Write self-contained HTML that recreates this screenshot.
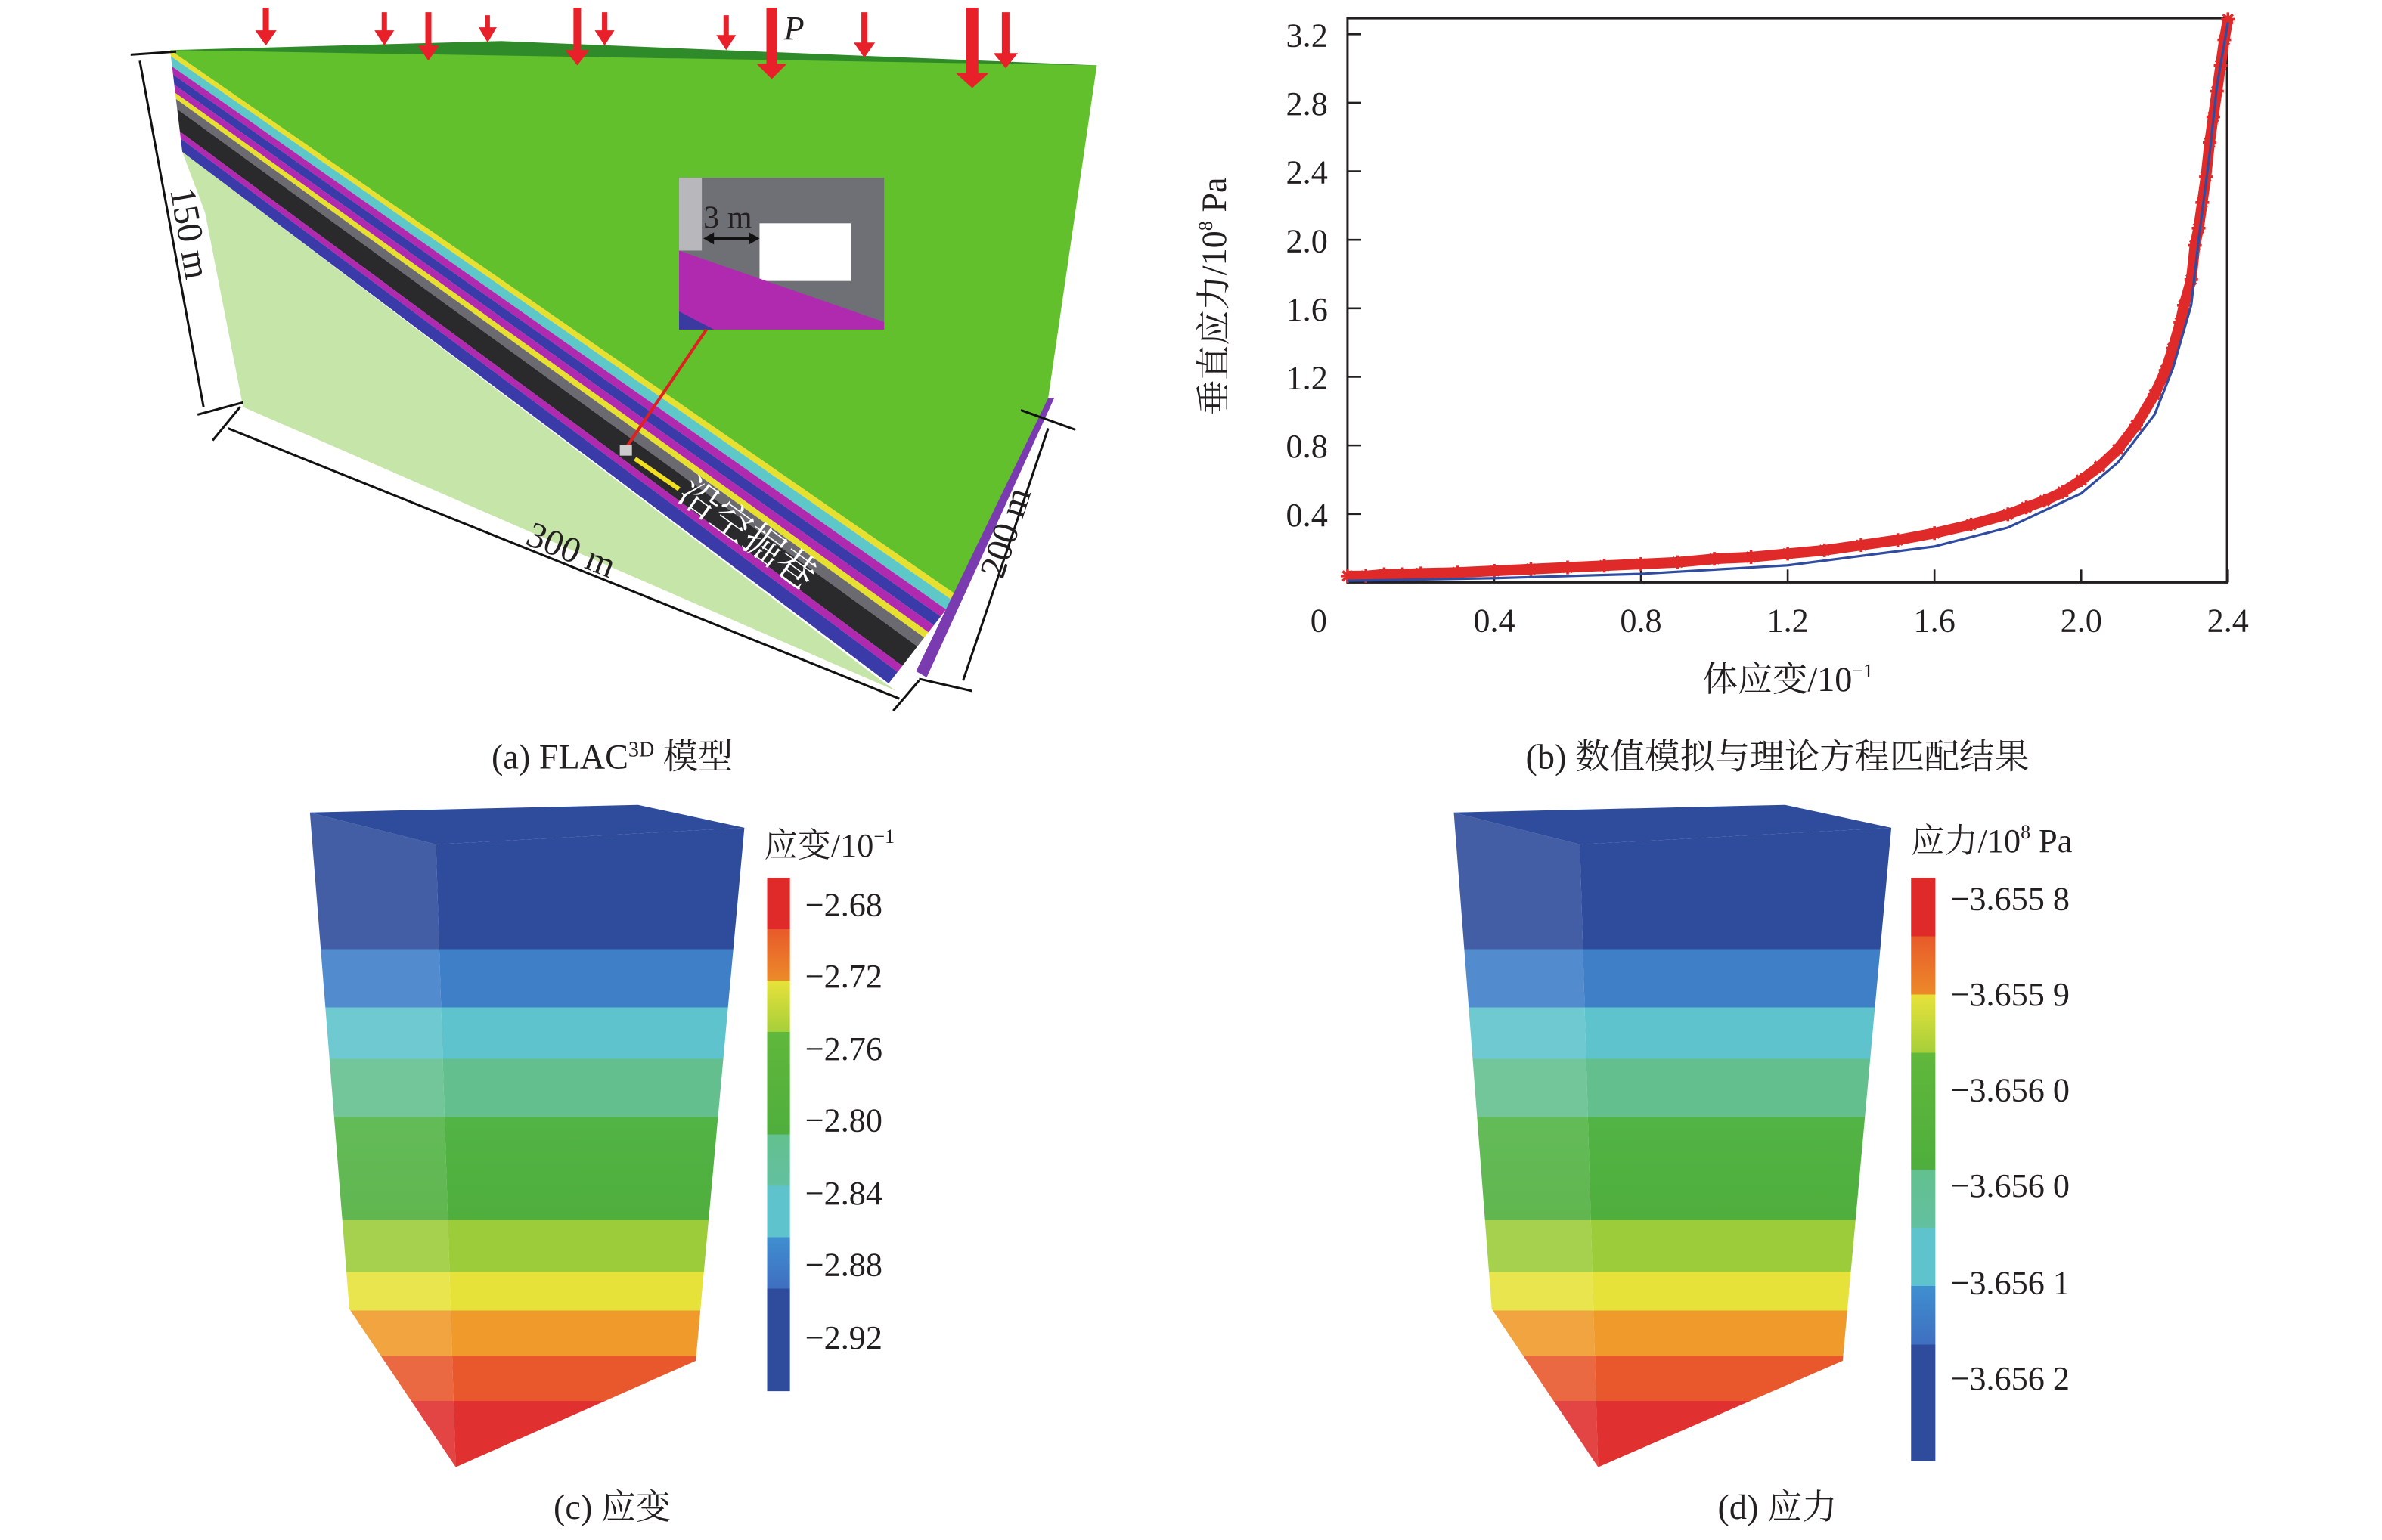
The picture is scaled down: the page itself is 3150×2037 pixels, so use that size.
<!DOCTYPE html>
<html><head><meta charset="utf-8"><style>
html,body{margin:0;padding:0;background:#fff;}
svg{display:block;}
text{font-family:"Liberation Serif","Noto Serif CJK SC",serif;fill:#231f20;}
</style></head><body>
<svg id="fig" width="3150" height="2037" viewBox="0 0 1568 1014" preserveAspectRatio="none" xmlns="http://www.w3.org/2000/svg">
<defs>
<linearGradient id="gc" x1="0" y1="540" x2="0" y2="965" gradientUnits="userSpaceOnUse">
<stop offset="0" stop-color="#2f4c9c"/><stop offset="0.2" stop-color="#2f4c9c"/>
<stop offset="0.2" stop-color="#3f7fc8"/><stop offset="0.29" stop-color="#3f7fc8"/>
<stop offset="0.29" stop-color="#5ec3cc"/><stop offset="0.37" stop-color="#5ec3cc"/>
<stop offset="0.37" stop-color="#63c08e"/><stop offset="0.46" stop-color="#63c08e"/>
<stop offset="0.46" stop-color="#52b446"/><stop offset="0.62" stop-color="#4fae3c"/>
<stop offset="0.62" stop-color="#9ccc3a"/><stop offset="0.7" stop-color="#9ccc3a"/>
<stop offset="0.7" stop-color="#e6e23a"/><stop offset="0.76" stop-color="#e6e23a"/>
<stop offset="0.76" stop-color="#ef9a2a"/><stop offset="0.83" stop-color="#ef9a2a"/>
<stop offset="0.83" stop-color="#e8582c"/><stop offset="0.9" stop-color="#e8582c"/>
<stop offset="0.9" stop-color="#e03030"/><stop offset="1" stop-color="#e03030"/>
</linearGradient>
<linearGradient id="cb" x1="0" y1="0" x2="0" y2="1">
<stop offset="0" stop-color="#e02a2a"/><stop offset="0.1" stop-color="#e02a2a"/>
<stop offset="0.1" stop-color="#e85a2a"/><stop offset="0.2" stop-color="#ec8a2a"/>
<stop offset="0.2" stop-color="#e8e23a"/><stop offset="0.3" stop-color="#a6cf3a"/>
<stop offset="0.3" stop-color="#60b83c"/><stop offset="0.5" stop-color="#4fae3c"/>
<stop offset="0.5" stop-color="#63c08e"/><stop offset="0.6" stop-color="#63c0a0"/>
<stop offset="0.6" stop-color="#5ec3cc"/><stop offset="0.7" stop-color="#5ec3cc"/>
<stop offset="0.7" stop-color="#3f8fd0"/><stop offset="0.8" stop-color="#3f6fc0"/>
<stop offset="0.8" stop-color="#2f4c9c"/><stop offset="1" stop-color="#2f4c9c"/>
</linearGradient>
</defs>

<!-- Panel A -->
<g>
  <polygon points="112,33 330,27 722,43 700,48" fill="#2f8a2a"/>
  <polygon points="120,100 135,140 160,268 590,455 580,448" fill="#c5e6a8"/>
  <polygon points="112,33 722,43 690,262 610,440 630,392" fill="#62c02c"/>
  <g id="strata"></g>
  <polygon points="690,262 694,262 610,446 603,442" fill="#7a3ab0"/>
  <rect x="447" y="117" width="135" height="100" fill="#6f6f76"/>
  <rect x="447" y="117" width="15" height="48" fill="#b8b8bc"/>
  <rect x="500" y="147" width="60" height="38" fill="#fff"/>
  <polygon points="447,165 582,212 582,217 447,217" fill="#b02ab0"/>
  <polygon points="447,205 470,217 447,217" fill="#3a3aa0"/>
  <text x="463" y="150" font-size="21">3 m</text>
  <line x1="465" y1="157" x2="498" y2="157" stroke="#111" stroke-width="2"/>
  <polygon points="463,157 470,153 470,161" fill="#111"/><polygon points="500,157 493,153 493,161" fill="#111"/>
  <line x1="465" y1="217" x2="412" y2="295" stroke="#e02020" stroke-width="2"/>
  <rect x="408" y="293" width="8" height="7" fill="#ccc"/>
  <line x1="418" y1="302" x2="447" y2="322" stroke="#f0e020" stroke-width="3"/>
  <text transform="translate(445,328) rotate(36)" font-size="26" style="fill:#fff">沿空掘巷</text>
  <g id="arrows"></g>
  <text x="516" y="26" font-size="22" font-style="italic">P</text>
  <g stroke="#111" stroke-width="1.5">
    <line x1="86" y1="36" x2="116" y2="34"/><line x1="130" y1="273" x2="160" y2="265"/>
    <line x1="92" y1="40" x2="134" y2="268"/>
  </g>
  <text transform="translate(112,125) rotate(80)" font-size="24">150 m</text>
  <g stroke="#111" stroke-width="1.5">
    <line x1="150" y1="282" x2="592" y2="460"/><line x1="140" y1="290" x2="158" y2="268"/><line x1="588" y1="468" x2="605" y2="448"/>
  </g>
  <text transform="translate(345,358) rotate(22)" font-size="24">300 m</text>
  <g stroke="#111" stroke-width="1.5">
    <line x1="690" y1="282" x2="634" y2="448"/><line x1="672" y1="270" x2="708" y2="283"/><line x1="605" y1="447" x2="640" y2="455"/>
  </g>
  <text transform="translate(660,382) rotate(-72)" font-size="24">200 m</text>
  <text x="403" y="506" font-size="23" text-anchor="middle">(a) FLAC<tspan font-size="14" dy="-8">3D</tspan><tspan dy="8"> 模型</tspan></text>
</g>

<!-- Panel B -->
<g id="chartB">
  <rect x="887" y="12" width="579" height="371.5" fill="none" stroke="#231f20" stroke-width="1.5"/>
  <g id="ticks"></g>
  <g id="series"></g>
  <text transform="translate(807,195) rotate(-90)" font-size="23" text-anchor="middle">垂直应力/10<tspan font-size="13" dy="-9">8</tspan><tspan dy="9"> Pa</tspan></text>
  <text x="1177" y="455" font-size="23" text-anchor="middle">体应变/10<tspan font-size="13" dy="-9">−1</tspan></text>
  <text x="1170" y="506" font-size="23" text-anchor="middle">(b) 数值模拟与理论方程匹配结果</text>
</g>

<!-- Panel C -->
<g>
  <polygon points="204,535 287,556 300,966 230,862" fill="url(#gc)" opacity="0.9"/>
  <polygon points="287,556 490,545 458,896 300,966" fill="url(#gc)"/>
  <polygon points="204,535 420,530 490,545 287,556" fill="#2f4c9c"/>
  <rect x="505" y="578" width="15" height="338" fill="url(#cb)"/>
  <text x="503" y="564" font-size="22">应变/10<tspan font-size="13" dy="-9">−1</tspan></text>
  <g font-size="22">
    <text x="530" y="603">−2.68</text><text x="530" y="650">−2.72</text><text x="530" y="698">−2.76</text>
    <text x="530" y="745">−2.80</text><text x="530" y="793">−2.84</text><text x="530" y="840">−2.88</text><text x="530" y="888">−2.92</text>
  </g>
  <text x="403" y="1000" font-size="23" text-anchor="middle">(c) 应变</text>
</g>

<!-- Panel D -->
<g>
  <polygon points="957,535 1040,556 1052,966 982,862" fill="url(#gc)" opacity="0.9"/>
  <polygon points="1040,556 1245,545 1213,896 1052,966" fill="url(#gc)"/>
  <polygon points="957,535 1175,530 1245,545 1040,556" fill="#2f4c9c"/>
  <rect x="1258" y="578" width="16" height="384" fill="url(#cb)"/>
  <text x="1258" y="561" font-size="22">应力/10<tspan font-size="13" dy="-9">8</tspan><tspan dy="9"> Pa</tspan></text>
  <g font-size="22">
    <text x="1284" y="599">−3.655 8</text><text x="1284" y="662">−3.655 9</text><text x="1284" y="725">−3.656 0</text>
    <text x="1284" y="788">−3.656 0</text><text x="1284" y="852">−3.656 1</text><text x="1284" y="915">−3.656 2</text>
  </g>
  <text x="1170" y="1000" font-size="23" text-anchor="middle">(d) 应力</text>
</g>
</svg>
<script>
const xTicks=[0.4,0.8,1.2,1.6,2.0,2.4];
const xTickLabels=["0.4","0.8","1.2","1.6","2.0","2.4"];
const yTicks=[0.4,0.8,1.2,1.6,2.0,2.4,2.8,3.2];
const yTickLabels=["0.4","0.8","1.2","1.6","2.0","2.4","2.8","3.2"];
const simStrain=[0,0.05,0.1,0.15,0.2,0.3,0.4,0.5,0.6,0.7,0.8,0.9,1.0,1.1,1.2,1.3,1.4,1.5,1.6,1.7,1.8,1.85,1.9,1.95,2.0,2.05,2.1,2.15,2.2,2.23,2.25,2.27,2.28,2.3,2.31,2.32,2.33,2.34,2.35,2.36,2.37,2.38,2.39,2.4];
const simStress=[0.02,0.02,0.03,0.03,0.035,0.04,0.05,0.06,0.07,0.08,0.09,0.1,0.12,0.13,0.15,0.17,0.2,0.23,0.27,0.32,0.38,0.42,0.46,0.51,0.58,0.66,0.76,0.9,1.08,1.22,1.35,1.5,1.6,1.75,1.95,2.05,2.2,2.35,2.55,2.7,2.85,3.0,3.15,3.27];
const fitStrain=[0,0.4,0.8,1.2,1.6,1.8,2.0,2.1,2.2,2.25,2.3,2.32,2.35,2.37,2.4];
const fitStress=[0.01,0.025,0.05,0.1,0.21,0.32,0.52,0.7,0.98,1.25,1.62,2.0,2.5,2.9,3.27];
const NS="http://www.w3.org/2000/svg";
function sx(v){return 887+v*241.5;}
function sy(v){return 383.5-v*112.8;}
function mk(tag,attrs,parent){const e=document.createElementNS(NS,tag);for(const k in attrs)e.setAttribute(k,attrs[k]);parent.appendChild(e);return e;}
const tk=document.getElementById('ticks');
xTicks.forEach((v,i)=>{
  const l=mk('line',{x1:sx(v),x2:sx(v),y1:383.5,y2:375,stroke:'#231f20','stroke-width':1.3},tk);
  
  
  const t=mk('text',{x:sx(v),y:416,'font-size':22,'text-anchor':'middle'},tk);t.textContent=xTickLabels[i];
  
  
});
const z=mk('text',{x:868,y:416,'font-size':22,'text-anchor':'middle'},tk);z.textContent="0";


yTicks.forEach((v,i)=>{
  const l=mk('line',{x1:887,x2:896,y1:sy(v),y2:sy(v),stroke:'#231f20','stroke-width':1.3},tk);
  
  
  const t=mk('text',{x:874,y:sy(v)+8,'font-size':22,'text-anchor':'end'},tk);t.textContent=yTickLabels[i];
  
  
});
const sr=document.getElementById('series');
const band=mk('polyline',{points:simStrain.map((v,i)=>sx(v)+','+(sy(simStress[i])-2)).join(' '),fill:'none',stroke:'#e02a2a','stroke-width':7,'stroke-linejoin':'round'},sr);


simStrain.forEach((v,i)=>{
  const x=sx(v),y=sy(simStress[i])-2,r=4.5;
  const g=mk('path',{d:`M${x-r},${y}H${x+r}M${x},${y-r}V${y+r}M${x-3.2},${y-3.2}L${x+3.2},${y+3.2}M${x-3.2},${y+3.2}L${x+3.2},${y-3.2}`,stroke:'#e02a2a','stroke-width':1.8},sr);
  
  
});
const fit=mk('polyline',{points:fitStrain.map((v,i)=>sx(v)+','+sy(fitStress[i])).join(' '),fill:'none',stroke:'#2f4ca0','stroke-width':1.6},sr);



// strata band in panel A
const st=document.getElementById('strata');
const T0=[112,33],T1=[630,392],B0=[120,100],B1=[585,450];
const layers=[[0,0.06,'#e8e030'],[0.06,0.16,'#5ec8c8'],[0.16,0.24,'#b02ab0'],[0.24,0.34,'#3a3aa8'],[0.34,0.42,'#b02ab0'],[0.42,0.48,'#e8e030'],[0.48,0.58,'#6a6a70'],[0.58,0.8,'#2a2a2c'],[0.8,0.87,'#b02ab0'],[0.87,1,'#3a3aa8']];
function lerp(a,b,f){return [a[0]+(b[0]-a[0])*f,a[1]+(b[1]-a[1])*f];}
layers.forEach(L=>{
  const a=lerp(T0,B0,L[0]),b=lerp(T1,B1,L[0]),c=lerp(T1,B1,L[1]),d=lerp(T0,B0,L[1]);
  const p=mk('polygon',{points:[a,b,c,d].map(q=>q.join(',')).join(' '),fill:L[2]},st);
  
  
});
// load arrows
const ar=document.getElementById('arrows');
[[175,5,30,4],[253,8,30,3.5],[282,8,40,4],[321,10,28,3],[380,5,43,5],[398,8,30,3.5],[478,10,33,3.5],[508,5,52,7],[569,8,38,4],[640,5,58,8],[662,8,45,5]].forEach(a=>{
  const [x,y0,y1,w]=a;
  const p=mk('polygon',{points:`${x-w/2},${y0} ${x+w/2},${y0} ${x+w/2},${y1-10} ${x+w+3},${y1-10} ${x},${y1} ${x-w-3},${y1-10} ${x-w/2},${y1-10}`,fill:'#e8202a'},ar);
  
  
});
</script>
</body></html>
